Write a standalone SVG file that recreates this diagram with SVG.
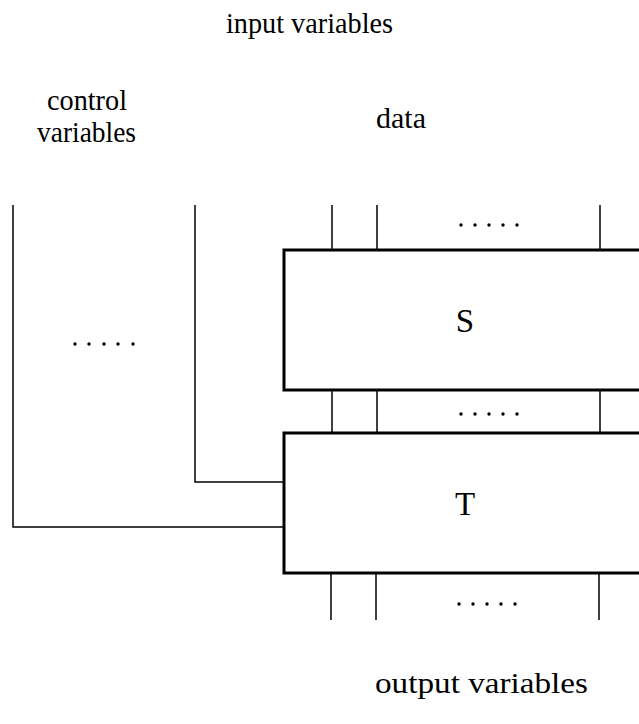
<svg xmlns="http://www.w3.org/2000/svg" width="639" height="724" viewBox="0 0 639 724">
<style>
text{font-family:"Liberation Serif","DejaVu Serif",serif;font-size:29px;fill:#000}
.big{font-size:33px}
.box{fill:none;stroke:#000;stroke-width:3}
.ln{fill:none;stroke:#000;stroke-width:1.5}
.dot{fill:#000}
</style>
<rect width="639" height="724" fill="#fff"/>
<g id="labels">
<text x="226" y="33" textLength="167" lengthAdjust="spacingAndGlyphs">input variables</text>
<text x="47" y="110" textLength="80" lengthAdjust="spacingAndGlyphs">control</text>
<text x="37" y="142" textLength="99" lengthAdjust="spacingAndGlyphs">variables</text>
<text x="376" y="128" textLength="50" lengthAdjust="spacingAndGlyphs">data</text>
<text x="375" y="693" textLength="213" lengthAdjust="spacingAndGlyphs">output variables</text>
</g>
<g id="connectors">
<path class="ln" d="M13,205V527H284"/>
<path class="ln" d="M195,205V482H284"/>
<path class="ln" d="M332,205V250M377,205V250M600,205V250"/>
<path class="ln" d="M332,390V433M377,390V433M600,390V433"/>
<path class="ln" d="M331,573V620M376,573V620M599,573V620"/>
</g>
<g id="dots">
<g class="dot"><circle cx="461" cy="225" r="1.7"/><circle cx="475" cy="225" r="1.7"/><circle cx="489" cy="225" r="1.7"/><circle cx="503" cy="225" r="1.7"/><circle cx="517" cy="225" r="1.7"/></g>
<g class="dot"><circle cx="461" cy="414" r="1.7"/><circle cx="475" cy="414" r="1.7"/><circle cx="489" cy="414" r="1.7"/><circle cx="503" cy="414" r="1.7"/><circle cx="517" cy="414" r="1.7"/></g>
<g class="dot"><circle cx="459" cy="604" r="1.7"/><circle cx="473" cy="604" r="1.7"/><circle cx="487" cy="604" r="1.7"/><circle cx="501" cy="604" r="1.7"/><circle cx="515" cy="604" r="1.7"/></g>
<g class="dot"><circle cx="75" cy="344" r="1.7"/><circle cx="89" cy="344" r="1.7"/><circle cx="104" cy="344" r="1.7"/><circle cx="118" cy="344" r="1.7"/><circle cx="133" cy="344" r="1.7"/></g>
</g>
<g id="S">
<path class="box" d="M641,250H284V390H641"/>
<text class="big" x="465" y="332" text-anchor="middle">S</text>
</g>
<g id="T">
<path class="box" d="M641,433H284V573H641"/>
<text class="big" x="465" y="515" text-anchor="middle">T</text>
</g>
</svg>
